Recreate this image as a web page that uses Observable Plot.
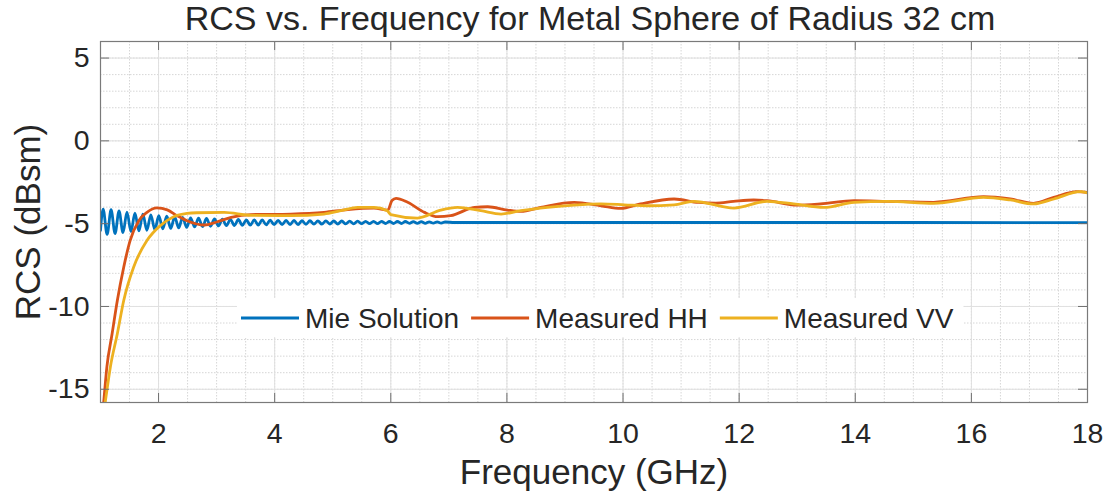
<!DOCTYPE html>
<html><head><meta charset="utf-8">
<script src="https://cdn.jsdelivr.net/npm/d3@7"></script>
<script src="https://cdn.jsdelivr.net/npm/@observablehq/plot@0.6"></script>
<style>body{margin:0;background:#fff;} #chart{width:1105px;height:495px;position:relative;}</style>
</head><body><div id="chart"></div>
<script>
const title = "RCS vs. Frequency for Metal Sphere of Radius 32 cm";
const xLabel = "Frequency (GHz)";
const yLabel = "RCS (dBsm)";
const seriesNames = ["Mie Solution", "Measured HH", "Measured VV"];
const seriesColors = ["#0072BD", "#D95319", "#EDB120"];
const xTicks = [2, 4, 6, 8, 10, 12, 14, 16, 18];
const yTicks = [-15, -10, -5, 0, 5];

const mieFreq = [1.0, 1.045, 1.114, 1.182, 1.251, 1.319, 1.388, 1.456, 1.525, 1.593, 1.662, 1.730, 1.799, 1.867, 1.936, 2.004, 2.073, 2.141, 2.210, 2.278, 2.347, 2.415, 2.484, 2.552, 2.621, 2.689, 2.758, 2.826, 2.895, 2.963, 3.032, 3.100, 3.169, 3.237, 3.306, 3.374, 3.443, 3.511, 3.580, 3.648, 3.717, 3.785, 3.854, 3.922, 3.991, 4.059, 4.128, 4.196, 4.265, 4.333, 4.402, 4.470, 4.539, 4.607, 4.676, 4.744, 4.813, 4.881, 4.950, 5.018, 5.087, 5.155, 5.224, 5.292, 5.361, 5.429, 5.498, 5.566, 5.635, 5.703, 5.772, 5.840, 5.909, 5.977, 6.046, 6.114, 6.183, 6.251, 6.320, 6.388, 6.457, 6.525, 6.594, 6.662, 6.731, 6.799, 6.868, 6.936, 7.10, 9.0, 12.0, 15.0, 18.0];
const mieRcs = [-5.40, -4.12, -5.65, -4.16, -5.60, -4.23, -5.54, -4.30, -5.48, -4.36, -5.44, -4.42, -5.40, -4.47, -5.36, -4.52, -5.32, -4.55, -5.29, -4.59, -5.26, -4.62, -5.23, -4.65, -5.20, -4.67, -5.18, -4.69, -5.16, -4.71, -5.14, -4.73, -5.12, -4.74, -5.11, -4.75, -5.10, -4.77, -5.09, -4.78, -5.08, -4.78, -5.07, -4.79, -5.06, -4.80, -5.06, -4.81, -5.05, -4.81, -5.05, -4.82, -5.04, -4.82, -5.03, -4.83, -5.03, -4.83, -5.02, -4.84, -5.02, -4.84, -5.01, -4.85, -5.01, -4.85, -5.00, -4.86, -5.00, -4.86, -5.00, -4.86, -4.99, -4.87, -4.99, -4.87, -4.99, -4.87, -4.98, -4.88, -4.98, -4.88, -4.98, -4.89, -4.97, -4.89, -4.97, -4.90, -4.93, -4.93, -4.93, -4.93, -4.94];

const hhFreq = [1.0, 1.057, 1.11, 1.2, 1.29, 1.4, 1.51, 1.66, 1.80, 1.97, 2.15, 2.32, 2.49, 2.79, 3.0, 3.25, 3.59, 4.28, 4.85, 5.26, 5.71, 5.95, 6.02, 6.09, 6.29, 6.58, 6.81, 7.03, 7.44, 7.67, 8.01, 8.24, 8.58, 9.16, 9.62, 9.96, 10.3, 10.88, 11.3, 11.6, 11.9, 12.25, 12.48, 13.0, 13.4, 13.98, 14.55, 15.35, 16.21, 16.67, 17.07, 17.42, 17.82, 18.0];
const hhRcs = [-17.9, -15.7, -13.65, -11.65, -9.64, -7.63, -6.02, -4.82, -4.32, -4.05, -4.17, -4.52, -4.82, -5.08, -4.90, -4.62, -4.45, -4.42, -4.32, -4.15, -4.06, -4.18, -3.60, -3.47, -3.71, -4.32, -4.58, -4.52, -4.02, -3.98, -4.18, -4.26, -4.02, -3.72, -3.92, -4.08, -3.81, -3.51, -3.72, -3.76, -3.66, -3.57, -3.61, -3.88, -3.81, -3.61, -3.65, -3.71, -3.37, -3.51, -3.77, -3.41, -3.07, -3.11];

const vvFreq = [1.0, 1.085, 1.17, 1.29, 1.40, 1.57, 1.80, 2.03, 2.26, 2.49, 2.66, 3.13, 3.59, 4.28, 4.85, 5.14, 5.43, 5.71, 5.94, 6.0, 6.46, 6.86, 7.15, 7.55, 7.90, 8.24, 8.70, 9.16, 9.62, 10.02, 10.42, 10.88, 11.22, 11.91, 12.48, 12.94, 13.46, 13.98, 14.55, 15.35, 16.21, 16.67, 17.07, 17.42, 17.88, 18.0];
const vvRcs = [-17.8, -15.7, -13.65, -11.65, -9.64, -7.63, -6.02, -5.12, -4.58, -4.38, -4.34, -4.32, -4.50, -4.52, -4.42, -4.22, -4.02, -4.02, -4.22, -4.45, -4.66, -4.18, -4.02, -4.22, -4.42, -4.22, -4.02, -3.88, -3.81, -3.86, -3.92, -3.86, -3.65, -4.06, -3.65, -3.81, -4.02, -3.71, -3.65, -3.77, -3.41, -3.57, -3.81, -3.51, -3.07, -3.15];

const seriesData = [[mieFreq, mieRcs], [hhFreq, hhRcs], [vvFreq, vvRcs]];
const rows = seriesData.flatMap(([fs, rs], k) => {
  const n = Math.min(fs.length, rs.length);
  return fs.slice(0, n).map((f, i) => ({series: seriesNames[k], f, r: rs[i]}));
});

const W = 1105, H = 495, mT = 41, mB = 93, mL = 100, mR = 18;
const fw = W - mL - mR, fh = H - mT - mB;
const font = "'Liberation Sans', Arial, Helvetica, sans-serif";
const xMinor = d3.range(1.5, 18, 0.5);
const yMinor = d3.range(-15, 6, 1);

const plot = Plot.plot({
  width: W, height: H, marginTop: mT, marginBottom: mB, marginLeft: mL, marginRight: mR,
  style: {fontFamily: font, background: "white", color: "#262626", overflow: "visible"},
  x: {domain: [1, 18]},
  y: {domain: [-15.8, 6]},
  color: {domain: seriesNames, range: seriesColors},
  marks: [
    Plot.ruleX(xMinor, {stroke: "#d6d6d6", strokeDasharray: "1.5,1.5"}),
    Plot.ruleY(yMinor, {stroke: "#d6d6d6", strokeDasharray: "1.5,1.5"}),
    Plot.ruleX(xTicks, {stroke: "#e0e0e0"}),
    Plot.ruleY(yTicks, {stroke: "#e0e0e0"}),
    Plot.line(rows, {x: "f", y: "r", z: "series", stroke: "series", strokeWidth: 2.8, curve: "monotone-x", clip: true}),
    Plot.tickX(xTicks, {x: d => d, insetTop: fh - 9, stroke: "#6e6e6e"}),
    Plot.tickX(xTicks, {x: d => d, insetBottom: fh - 9, stroke: "#6e6e6e"}),
    Plot.tickY(yTicks, {y: d => d, insetRight: fw - 9, stroke: "#6e6e6e"}),
    Plot.tickY(yTicks, {y: d => d, insetLeft: fw - 9, stroke: "#6e6e6e"}),
    Plot.frame({stroke: "#7a7a7a", strokeWidth: 1.2}),
    Plot.axisX(xTicks, {tickSize: 0, tickPadding: 20, fontSize: 28.5, label: null, tickFormat: d => String(d)}),
    Plot.axisY(yTicks, {tickSize: 0, tickPadding: 11, fontSize: 28.5, label: null, tickFormat: d => String(d)}),
    Plot.text([xLabel], {frameAnchor: "bottom", dy: 70, fontSize: 35, lineAnchor: "middle", textAnchor: "middle"}),
    Plot.text([yLabel], {frameAnchor: "left", dx: -72, rotate: -90, fontSize: 35, lineAnchor: "middle", textAnchor: "middle"}),
    Plot.text([title], {frameAnchor: "top", dy: -22, dx: -4, fontSize: 34, lineAnchor: "middle", textAnchor: "middle"})
  ]
});
document.getElementById("chart").appendChild(plot);

// Legend inside the axes (MATLAB style: white box, no border)
const svg = d3.select(plot);
const lg = svg.append("g").attr("font-family", font).attr("font-size", 28).attr("fill", "#262626").attr("text-anchor", "start");
const bg = lg.append("rect").attr("fill", "white");
const lx0 = 241, ly = 318, lineLen = 58;
let cx = lx0;
seriesNames.forEach((name, i) => {
  lg.append("line").attr("x1", cx).attr("x2", cx + lineLen).attr("y1", ly).attr("y2", ly)
    .attr("stroke", seriesColors[i]).attr("stroke-width", 2.8);
  const t = lg.append("text").attr("x", cx + lineLen + 6).attr("y", ly).attr("dy", "0.35em")
    .attr("text-anchor", "start").text(name);
  const w = t.node().getComputedTextLength();
  cx = cx + lineLen + 6 + w + 12;
});
bg.attr("x", lx0 - 4).attr("y", 298).attr("width", cx - lx0 + 2).attr("height", 39);
</script>
</body></html>
